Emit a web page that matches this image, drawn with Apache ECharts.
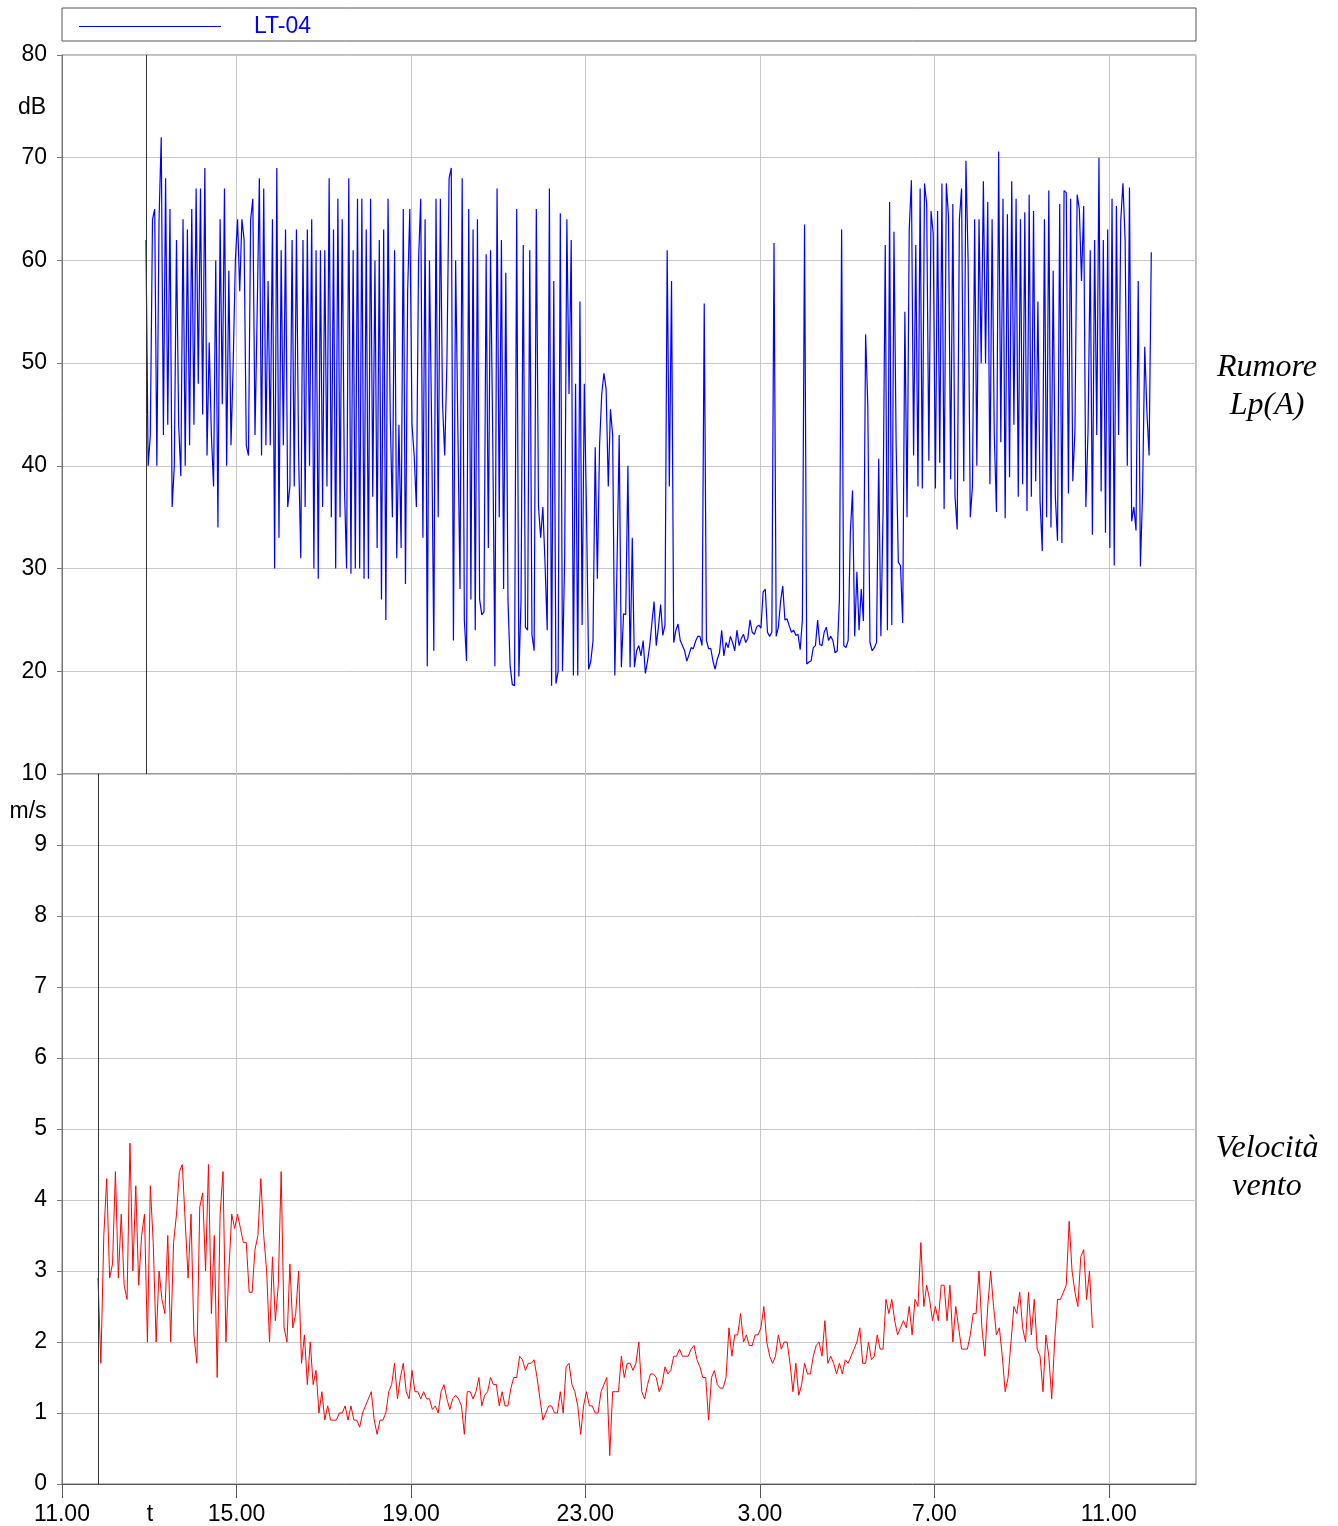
<!DOCTYPE html>
<html>
<head>
<meta charset="utf-8">
<script src="https://cdn.jsdelivr.net/npm/echarts@6/dist/echarts.min.js"></script>
<style>
    html, body { margin: 0; padding: 0; background: #fff; }
    #chart { width: 1338px; height: 1526px; }
</style>
</head>
<body>
<div id="chart"></div>
<script>
// Rumore Lp(A) LT-04, dB - one sample every 3 min from 12.55.30
const noiseStartMin = 115.5   // minutes after 11.00
const noiseStepMin = 3
const noiseValues = [
    62, 40, 43, 64, 65, 40, 64, 72, 43, 68, 44, 65, 36, 40, 62, 44, 39, 64, 40, 63,
    42, 65, 44, 67, 48, 67, 45, 69, 41, 52, 43, 38, 60, 34, 64, 46, 67, 40, 59, 42,
    50, 60, 64, 57, 64, 62, 42, 41, 64, 66, 43, 55, 68, 41, 67, 42, 58, 42, 64, 30,
    69, 33, 61, 42, 63, 36, 38, 62, 38, 63, 41, 31, 62, 36, 63, 40,
    64, 30, 61, 29, 61, 36, 61, 38, 68, 35, 63, 30, 66, 35, 64, 38, 30, 68, 29.5, 61,
    30, 66, 30, 66, 29, 63, 29, 66, 37, 60, 32, 62, 27, 63, 25, 66, 45, 35, 61, 31,
    44, 32, 65, 28.5, 57, 65, 44, 41, 36, 60, 66, 33, 64, 20.5, 60, 44, 22, 66, 35, 66,
    46, 41, 50, 68, 69, 23, 60, 44, 28, 68, 25, 21, 65, 27, 63,
    24, 64, 27, 25.5, 25.8, 60.6, 32, 61, 43, 20.5, 67, 35, 62, 28, 58.8, 27, 20.5, 18.7, 18.6, 65,
    19.5, 27, 61.5, 24.3, 24, 61, 23.6, 22, 65, 36, 33, 36, 30.5, 24, 67, 18.6, 58, 18.8, 20, 64.6,
    20, 31, 64, 47, 62, 19.6, 48, 19.6, 56, 24.5, 48, 35.6, 20.2, 21, 23, 41.8, 29, 42, 47, 49,
    47.5, 38, 45.5, 43, 19.6, 30.3, 43, 20.4, 25.6, 25.5, 40, 20.4, 33, 20.4, 22, 22.5,
    21.5, 23, 19.8, 21, 22.5, 24.7, 26.8, 22.5, 24.3, 26.5, 23.5, 24.5, 61, 38, 58, 22.8, 24, 24.6, 23, 22.5,
    22, 21, 21.6, 22.3, 22.2, 22.9, 23.4, 23.4, 22.5, 55.8, 23, 22.2, 22.2, 21, 20.2, 21.2, 21.8, 24, 21.5, 22.8,
    22.3, 23.4, 22.8, 22, 24, 22.5, 23.2, 23.6, 22.8, 23.2, 25, 23.8, 23.6, 24.3, 24.5, 24.2, 27.7, 28, 23.8, 23.4,
    23.8, 61.7, 23.4, 24.3, 26.8, 28.3, 25, 25.1, 24.4, 23.8, 24, 23.5, 23.6, 22.1, 25, 63.5,
    20.7, 20.9, 21, 22.3, 22.5, 25, 22.6, 22.5, 23.8, 24.3, 23, 23.4, 23, 21.8, 22, 27, 63, 22.5, 22.3, 23,
    33.5, 37.6, 23.4, 29.7, 24, 28, 24.9, 52.8, 45.9, 22.8, 22, 22.3, 22.8, 40.7, 23.4, 35.5, 61.5, 24, 65.7, 24.5,
    62.8, 42, 30.6, 30.3, 24.7, 55, 35, 63, 67.8, 41, 61.5, 38, 67, 37.8, 67.5, 65.5, 40.5, 64.8, 62.6, 37.8,
    64.8, 40.3, 67.5, 35.8, 67.5, 64.3, 38.7, 65.5, 37, 33.8, 64, 67, 38.5, 69.7, 60, 35,
    38, 64, 40, 64, 50, 67.7, 50, 65.7, 38.2, 64, 43, 35.5, 70.6, 42.3, 66, 34.9, 64.5, 38.9, 67.7, 44,
    66, 37, 64, 38.2, 64.7, 35.6, 66.4, 37, 64.8, 38.5, 56, 36.5, 31.7, 64, 35, 66.8, 34, 59, 37, 32.7,
    65.5, 32.5, 66.8, 66.6, 37.3, 66, 38.5, 43.5, 66.4, 65, 58, 65.3, 36, 43.5, 61, 33.3, 62, 43, 70, 37.5,
    62, 33.5, 63, 32, 66, 30.3, 65.3, 43, 63.9, 67.5, 62, 40, 67.1, 34.6, 36, 33.7, 58, 30.2, 37.3, 51.6,
    45.2, 41, 60.8
]

// Velocità vento, m/s - one sample every 4 min from 11.49.30
const windStartMin = 49.5
const windStepMin = 4
const windValues = [
    2.9, 1.7, 3.5, 4.3, 2.9, 3.1, 4.4, 2.9, 3.8, 2.8, 2.6, 4.8, 3.0, 4.2, 2.8, 3.5, 3.8, 2.0, 4.2, 3.4,
    2.0, 3.0, 2.6, 2.4, 3.5, 2.0, 3.4, 3.8, 4.4, 4.5, 3.7, 2.9, 3.8, 2.1, 1.7, 3.9, 4.1, 3.0, 4.5, 2.4,
    3.5, 1.5, 3.8, 4.4, 2.0, 3.0, 3.8, 3.6, 3.8, 3.6, 3.4, 3.4, 2.7, 2.7, 3.3, 3.5, 4.3, 3.5, 3.0, 2.0,
    3.2, 2.3, 2.8, 4.4, 2.2, 2.0, 3.1, 2.2, 2.4, 3.0, 1.7, 2.1, 1.4, 2.0, 1.4, 1.6, 1.0, 1.3, 0.9, 1.1,
    0.9, 0.9, 0.9, 1.0, 1.0, 1.1, 0.9,
    1.1, 0.9, 0.9, 0.8, 1.0, 1.1, 1.2, 1.3, 0.9, 0.7, 0.9, 0.9, 1.0, 1.3, 1.4, 1.7, 1.2, 1.5, 1.7, 1.3,
    1.2, 1.6, 1.3, 1.3, 1.2, 1.3, 1.2, 1.2, 1.05, 1.1, 1.0, 1.3, 1.4, 1.2, 1.05, 1.2, 1.25, 1.2, 1.1, 0.7,
    1.3, 1.3, 1.2, 1.3, 1.5, 1.1, 1.25, 1.3, 1.5, 1.4, 1.4, 1.1, 1.3, 1.1, 1.1, 1.35, 1.5, 1.5, 1.8, 1.75,
    1.6, 1.7, 1.7, 1.75, 1.5, 1.2, 0.9, 1.0, 1.1, 1.1, 1.0, 1.0, 1.3, 1.0, 1.65, 1.7, 1.4, 1.3, 1.1, 0.7,
    1.1, 1.3, 1.1, 1.1, 1.0, 1.0,
    1.3, 1.4, 1.5, 0.4, 1.3, 1.3, 1.3, 1.8, 1.5, 1.7, 1.7, 1.6, 1.7, 2.0, 1.3, 1.2, 1.4, 1.55, 1.55, 1.5,
    1.3, 1.4, 1.65, 1.55, 1.6, 1.8, 1.8, 1.9, 1.8, 1.8, 1.8, 1.9, 1.95, 1.75, 1.65, 1.5, 1.5, 0.9, 1.5, 1.6,
    1.4, 1.35, 1.35, 1.5, 2.2, 1.8, 2.1, 2.1, 2.4, 2.0, 2.1, 1.95, 1.95, 2.1, 2.1, 2.2, 2.5, 2.0, 1.8, 1.7,
    1.8, 2.1, 1.9, 2.0, 2.0, 1.7, 1.3, 1.7, 1.25, 1.4, 1.7, 1.55, 1.55, 1.8, 1.95, 2.0, 1.8, 2.3, 1.7, 1.8,
    1.7, 1.55, 1.7, 1.55, 1.75, 1.7,
    1.8, 1.9, 2.0, 2.2, 1.7, 1.7, 2.0, 1.75, 1.8, 2.1, 1.9, 1.9, 2.6, 2.4, 2.6, 2.3, 2.1, 2.2, 2.3, 2.2,
    2.5, 2.1, 2.6, 2.5, 3.4, 2.5, 2.8, 2.6, 2.3, 2.5, 2.3, 2.8, 2.8, 2.3, 2.8, 2.0, 2.5, 2.2, 1.9, 1.9,
    1.9, 2.1, 2.4, 2.4, 3.0, 2.2, 1.8, 2.5, 3.0, 2.5, 2.1, 2.2, 1.8, 1.3, 1.5, 2.0, 2.5, 2.4, 2.7, 2.2,
    2.0, 2.7, 2.1, 2.6, 1.9, 1.8, 1.3, 2.1, 1.8, 1.2, 2.0, 2.6, 2.6, 2.7, 2.8, 3.7, 3.0, 2.7, 2.5, 3.2,
    3.3, 2.6, 3.0, 2.2
]

// time axis: hours after 11.00, labels every 4 h
const timeTickHours = [0, 4, 8, 12, 16, 20, 24]
const timeTickLabels = ['11.00', '15.00', '19.00', '23.00', '3.00', '7.00', '11.00']

const FONT = '"Liberation Sans", Arial, sans-serif'
const SERIF = '"Liberation Serif", "Times New Roman", serif'
const GRID_LINE = '#c8c8c8'
const AXIS_COLOR = '#777'
const NOISE_COLOR = '#0000ff'

const toHours = (start, step) => (v, i) => [(start + i * step) / 60, v]
const noiseData = noiseValues.map(toHours(noiseStartMin, noiseStepMin))
const windData = windValues.map(toHours(windStartMin, windStepMin))

const chart = echarts.init(document.getElementById('chart'))

const yAxisBase = {
    type: 'value',
    axisLine: { show: true, lineStyle: { color: AXIS_COLOR } },
    axisTick: { show: true, length: 5, lineStyle: { color: AXIS_COLOR } },
    axisLabel: { color: '#000', fontSize: 23, fontFamily: FONT, margin: 15 },
    splitLine: { lineStyle: { color: GRID_LINE, width: 1 } }
}

const startLine = (x) => ({
    symbol: ['none', 'none'],
    silent: true,
    animation: false,
    label: { show: false },
    lineStyle: { color: '#333', width: 1, type: 'solid' },
    data: [{ xAxis: x }]
})

chart.setOption({
    animation: false,
    textStyle: { fontFamily: FONT },
    legend: {
        data: ['LT-04'],
        left: 74,
        top: 10,
        icon: 'rect',
        itemWidth: 142,
        itemHeight: 1,
        selectedMode: false,
        itemStyle: { color: NOISE_COLOR, borderWidth: 0 },
        textStyle: { color: NOISE_COLOR, fontSize: 23, fontFamily: FONT, padding: [0, 0, 0, 28] }
    },
    grid: [
        { left: 62, right: 142, top: 55, height: 719, show: true, borderColor: AXIS_COLOR, borderWidth: 1 },
        { left: 62, right: 142, top: 774, height: 712, show: true, borderColor: AXIS_COLOR, borderWidth: 1 }
    ],
    xAxis: [
        {
            gridIndex: 0, type: 'value', min: 0, max: 26, interval: 4,
            axisLine: { show: false }, axisTick: { show: false }, axisLabel: { show: false },
            splitLine: { lineStyle: { color: GRID_LINE, width: 1 } }
        },
        {
            gridIndex: 1, type: 'value', min: 0, max: 26, interval: 4,
            axisLine: { show: true, onZero: false, lineStyle: { color: '#555' } },
            axisTick: { show: true, length: 14, customValues: timeTickHours, lineStyle: { color: '#555' } },
            axisLabel: {
                color: '#000', fontSize: 23, fontFamily: FONT, margin: 19,
                customValues: timeTickHours,
                formatter: (v) => timeTickLabels[timeTickHours.indexOf(v)] || ''
            },
            splitLine: { lineStyle: { color: GRID_LINE, width: 1 } }
        }
    ],
    yAxis: [
        { ...yAxisBase, gridIndex: 0, min: 10, max: 80, interval: 10 },
        {
            ...yAxisBase, gridIndex: 1, min: 0, max: 10, interval: 1,
            axisLabel: { ...yAxisBase.axisLabel, formatter: (v) => (v === 10 ? '' : String(v)) }
        }
    ],
    series: [
        {
            name: 'LT-04',
            type: 'line',
            xAxisIndex: 0,
            yAxisIndex: 0,
            data: noiseData,
            symbol: 'none',
            lineStyle: { color: NOISE_COLOR, width: 1.2 },
            itemStyle: { color: NOISE_COLOR },
            markLine: startLine(noiseData[0][0])
        },
        {
            name: 'vento',
            type: 'line',
            xAxisIndex: 1,
            yAxisIndex: 1,
            data: windData,
            symbol: 'none',
            lineStyle: { color: '#ff0000', width: 1 },
            itemStyle: { color: '#ff0000' },
            markLine: startLine(windData[0][0])
        }
    ],
    graphic: [
        {
            type: 'rect', silent: true,
            shape: { x: 62, y: 8, width: 1134, height: 33 },
            style: { fill: 'none', stroke: '#555', lineWidth: 1 }
        },
        {
            type: 'text', x: 32, y: 108, silent: true,
            style: { text: 'dB', fill: '#000', fontSize: 23, fontFamily: FONT, align: 'center', verticalAlign: 'middle' }
        },
        {
            type: 'text', x: 28, y: 812, silent: true,
            style: { text: 'm/s', fill: '#000', fontSize: 23, fontFamily: FONT, align: 'center', verticalAlign: 'middle' }
        },
        {
            type: 'text', x: 150, y: 1515, silent: true,
            style: { text: 't', fill: '#000', fontSize: 23, fontFamily: FONT, align: 'center', verticalAlign: 'middle' }
        },
        {
            type: 'text', x: 1267, y: 387, silent: true,
            style: {
                text: 'Rumore\nLp(A)', fill: '#000', fontSize: 32, fontStyle: 'italic', fontFamily: SERIF,
                lineHeight: 38, align: 'center', verticalAlign: 'middle'
            }
        },
        {
            type: 'text', x: 1267, y: 1168, silent: true,
            style: {
                text: 'Velocità\nvento', fill: '#000', fontSize: 32, fontStyle: 'italic', fontFamily: SERIF,
                lineHeight: 38, align: 'center', verticalAlign: 'middle'
            }
        }
    ]
})
</script>
</body>
</html>
